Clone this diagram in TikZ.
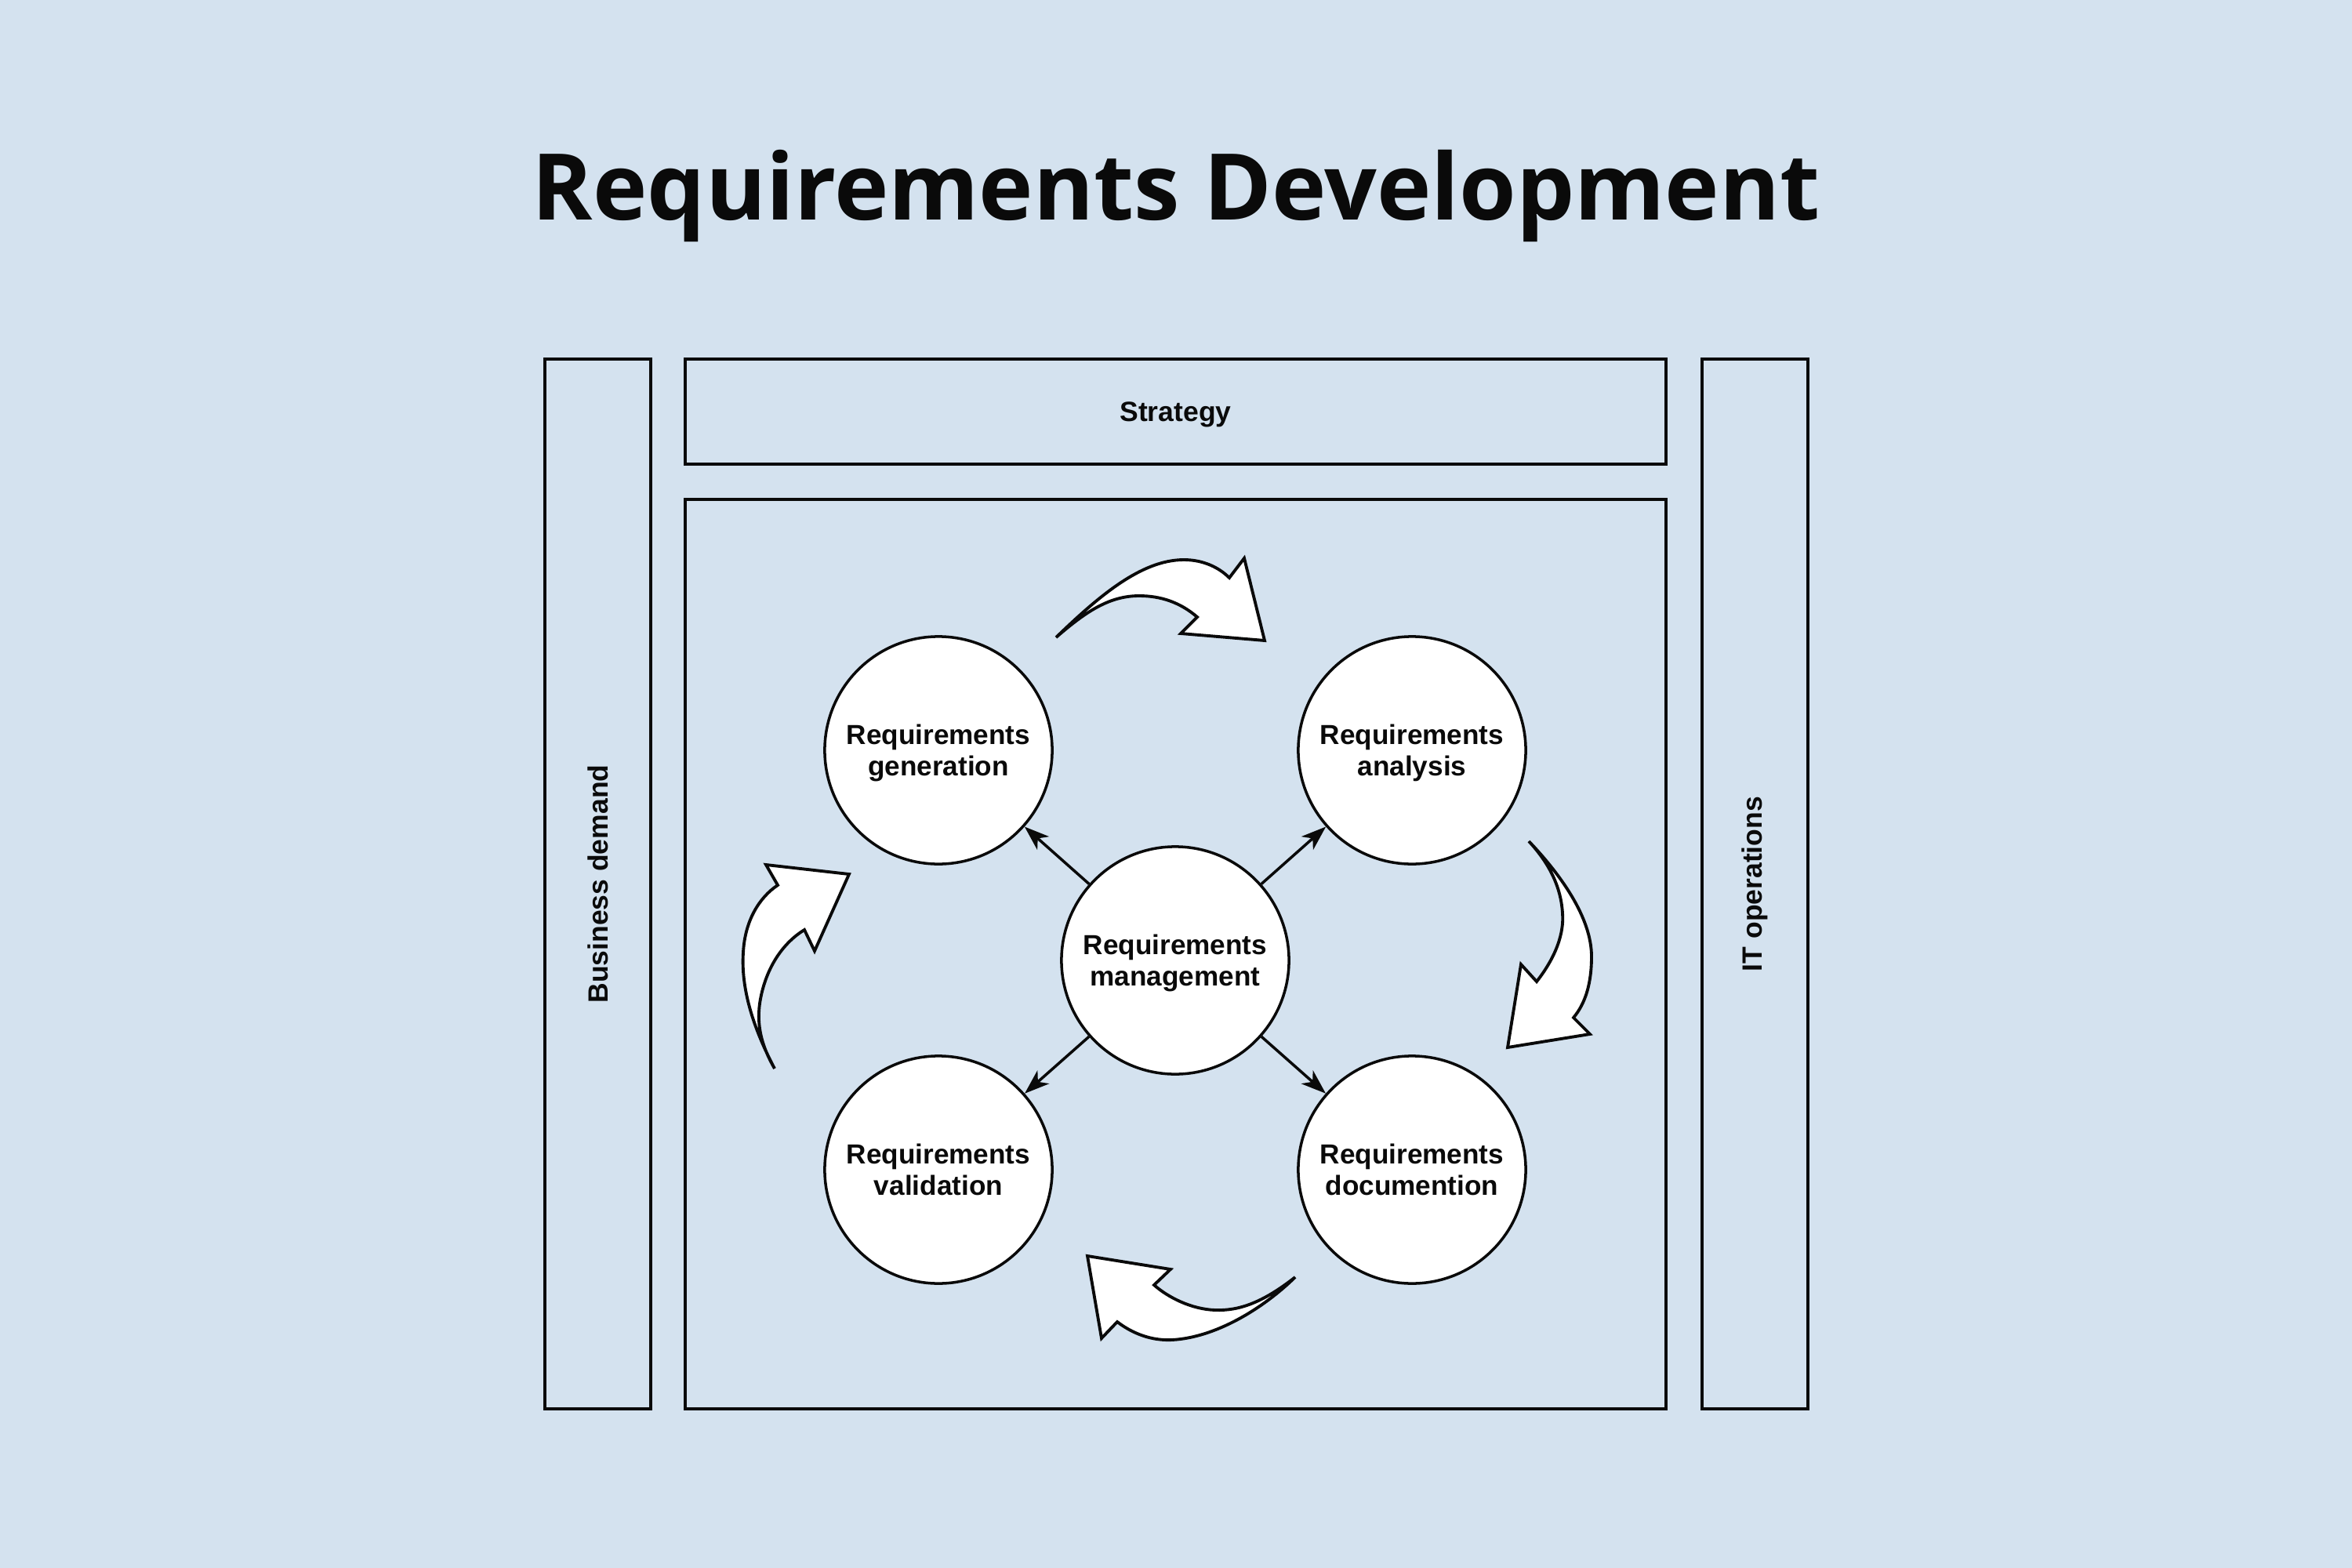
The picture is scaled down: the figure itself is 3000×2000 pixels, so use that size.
\documentclass[tikz,border=0pt]{standalone}
\usepackage{fontspec}
\setmainfont{Liberation Sans}
\newfontfamily\titlefont{Open Sans}
\usetikzlibrary{arrows.meta}
\definecolor{bgblue}{RGB}{212,226,239}
\definecolor{ink}{RGB}{10,10,10}
\tikzset{
  framebox/.style={draw=ink, line width=1.15pt, fill=none, inner sep=0pt, font=\bfseries\fontsize{10.1pt}{11pt}\selectfont, text=ink},
  stage/.style={circle, draw=ink, fill=white, line width=1pt, minimum size=2.9cm, inner sep=0pt, align=center, text depth=0pt, font=\bfseries\fontsize{10pt}{11.4pt}\selectfont, text=ink},
  conn/.style={draw=ink, line width=1pt, -{Stealth[length=9pt,width=6.4pt,inset=2.6pt]}},
  flow/.style={draw=ink, fill=white, line width=1.1pt, line join=miter},
}
\begin{document}
\begin{tikzpicture}[x=0.01cm, y=-0.01cm]
\useasboundingbox (0,0) rectangle (3000,2000);
\fill[bgblue] (0,0) rectangle (3000,2000);

% title
\node[anchor=base, inner sep=0pt, text=ink, font=\titlefont\bfseries\fontsize{33.4pt}{38pt}\selectfont] (title) at (1500,280) {Requirements Development};

% frames
\node[framebox, minimum width=13.39cm, minimum height=1.35cm, rotate=90] (bd) at (762.5,1127.5) {Business demand};
\node[framebox, minimum width=13.39cm, minimum height=1.35cm, rotate=90] (it) at (2238.5,1127.5) {IT operations};
\node[framebox, minimum width=12.51cm, minimum height=1.34cm, text depth=0pt] (strat) at (1499.5,525) {Strategy};
\node[framebox, minimum width=12.51cm, minimum height=11.60cm] (main) at (1499.5,1217) {};

% circles
\node[stage] (gen) at (1197,957) {Requirements\\generation};
\node[stage] (ana) at (1801,957) {Requirements\\analysis};
\node[stage] (mgmt) at (1499,1225) {Requirements\\management};
\node[stage] (val) at (1197,1492) {Requirements\\validation};
\node[stage] (doc) at (1801,1492) {Requirements\\documention};

% straight connectors
\draw[conn] (mgmt) -- (gen);
\draw[conn] (mgmt) -- (ana);
\draw[conn] (mgmt) -- (val);
\draw[conn] (mgmt) -- (doc);

% curved block arrows
% top: generation -> analysis
\draw[flow] (1347,813) .. controls (1400,762) and (1455,714) .. (1510,714)
  .. controls (1535,714) and (1555,724) .. (1568,737)
  -- (1587,712) -- (1613,817) -- (1506,808) -- (1527,787)
  .. controls (1505,768) and (1480,760) .. (1453,760)
  .. controls (1415,760) and (1385,780) .. cycle;
% right: analysis -> documention
\draw[flow] (1950,1073) .. controls (1990,1115) and (2030,1170) .. (2030,1220)
  .. controls (2030,1255) and (2022,1280) .. (2007,1298)
  -- (2028,1319) -- (1923,1336) -- (1940,1230) -- (1960,1252)
  .. controls (1985,1220) and (1995,1190) .. (1993,1165)
  .. controls (1991,1130) and (1975,1100) .. cycle;
% bottom: documention -> validation
\draw[flow] (1652,1629) .. controls (1610,1662) and (1580,1672) .. (1550,1671)
  .. controls (1520,1670) and (1490,1655) .. (1472,1639)
  -- (1493,1619) -- (1387,1602) -- (1405,1707) -- (1425,1686)
  .. controls (1450,1705) and (1475,1710) .. (1495,1709)
  .. controls (1550,1706) and (1610,1670) .. cycle;
% left: validation -> generation
\draw[flow] (988,1363) .. controls (960,1310) and (945,1260) .. (948,1215)
  .. controls (950,1175) and (968,1145) .. (992,1129)
  -- (977,1103) -- (1083,1115) -- (1039,1213) -- (1026,1186)
  .. controls (995,1205) and (975,1240) .. (969,1280)
  .. controls (965,1310) and (972,1335) .. cycle;
\end{tikzpicture}
\end{document}
